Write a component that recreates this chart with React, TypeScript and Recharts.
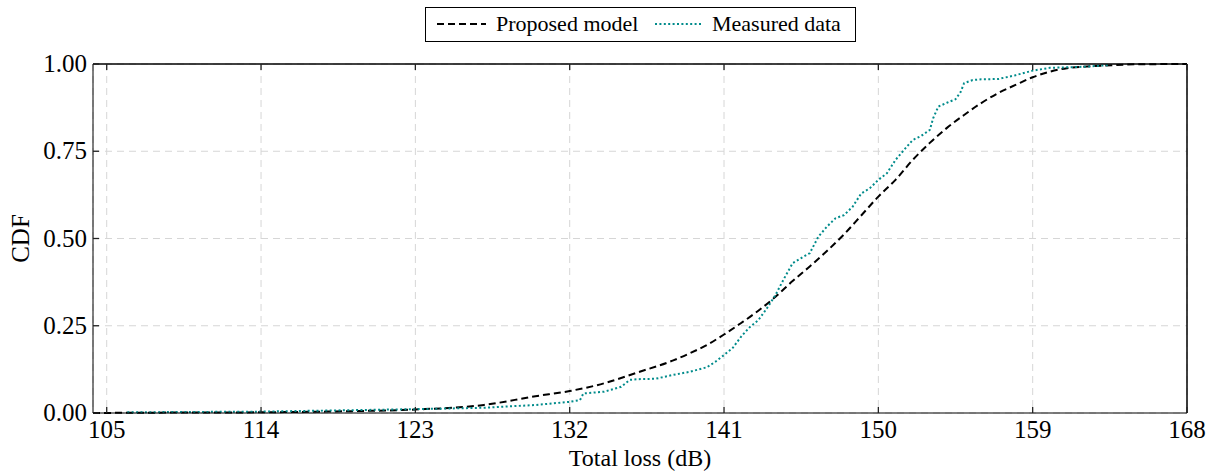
import { LineChart, Line, XAxis, YAxis, CartesianGrid, ReferenceLine } from 'recharts';

// proposed model CDF (total loss in dB -> CDF)
const modelLoss = [104.2, 108, 114, 119, 123, 127, 130, 132, 134, 136, 138, 139, 140, 141, 142, 143, 144, 145, 146, 147, 148, 149, 150, 151, 152, 153, 154, 155, 156, 157, 158, 159, 161, 163, 165, 168];
const modelCdf = [0, 0.001, 0.002, 0.005, 0.01, 0.023, 0.048, 0.063, 0.085, 0.117, 0.15, 0.171, 0.195, 0.225, 0.258, 0.293, 0.333, 0.378, 0.42, 0.464, 0.512, 0.566, 0.62, 0.668, 0.725, 0.774, 0.817, 0.854, 0.888, 0.917, 0.94, 0.962, 0.988, 0.995, 0.999, 1];

// measured data CDF
const measLoss = [106.2, 114, 123, 127, 130, 132, 132.6, 132.8, 134, 135, 135.5, 136, 137, 138, 139, 140, 140.5, 141, 141.5, 142, 142.5, 143, 143.5, 144, 144.5, 145, 145.5, 146, 146.5, 147, 147.5, 148, 148.5, 149, 149.5, 150, 150.5, 151, 151.5, 152, 152.5, 153, 153.2, 153.5, 154, 154.5, 154.8, 155, 155.5, 156, 157, 158, 159, 160, 162, 163.5];
const measCdf = [0.002, 0.004, 0.011, 0.015, 0.023, 0.032, 0.037, 0.056, 0.061, 0.075, 0.095, 0.097, 0.098, 0.109, 0.118, 0.131, 0.147, 0.166, 0.186, 0.219, 0.246, 0.266, 0.3, 0.338, 0.385, 0.429, 0.444, 0.458, 0.505, 0.534, 0.558, 0.567, 0.591, 0.629, 0.644, 0.668, 0.687, 0.725, 0.754, 0.782, 0.794, 0.811, 0.845, 0.878, 0.889, 0.899, 0.92, 0.945, 0.954, 0.956, 0.957, 0.968, 0.981, 0.989, 0.992, 0.997];

const xTicks = [105, 114, 123, 132, 141, 150, 159, 168];
const yTicks = [0, 0.25, 0.5, 0.75, 1];

const modelData = modelLoss.map((x, i) => ({ x, y: modelCdf[i] }));
const measData = measLoss.map((x, i) => ({ x, y: measCdf[i] }));

const FONT = 'Liberation Serif, DejaVu Serif, serif';
const TEAL = '#008b8b';
const TICK = '#222';

// inward tick marks drawn by hand, labels outside
const BottomTick = (p: any) => (
  <g>
    <line x1={p.x} x2={p.x} y1={p.y} y2={p.y - 6} stroke={TICK} strokeWidth={1.3} />
    <text x={p.x} y={p.y + 25} textAnchor="middle" fontFamily={FONT} fontSize={25} fill="#000">
      {p.payload.value}
    </text>
  </g>
);
const TopTick = (p: any) => (
  <line x1={p.x} x2={p.x} y1={p.y} y2={p.y + 6} stroke={TICK} strokeWidth={1.3} />
);
const LeftTick = (p: any) => (
  <g>
    <line x1={p.x} x2={p.x + 6} y1={p.y} y2={p.y} stroke={TICK} strokeWidth={1.3} />
    <text x={p.x - 6} y={p.y + 8} textAnchor="end" fontFamily={FONT} fontSize={25} fill="#000">
      {Number(p.payload.value).toFixed(2)}
    </text>
  </g>
);
const RightTick = (p: any) => (
  <line x1={p.x} x2={p.x - 6} y1={p.y} y2={p.y} stroke={TICK} strokeWidth={1.3} />
);

const LegendBox = () => (
  <svg width={1219} height={50} style={{ position: 'absolute', left: 0, top: 0 }}>
    <rect x={425.5} y={7.5} width={430} height={34} fill="#fff" stroke="#000" strokeWidth={1} />
    <line x1={437} y1={24} x2={486} y2={24} stroke="#000" strokeWidth={2} strokeDasharray="7 4" />
    <text x={496} y={31} fontFamily={FONT} fontSize={22}>Proposed model</text>
    <line x1={655} y1={24} x2={701} y2={24} stroke={TEAL} strokeWidth={2} strokeDasharray="2 2.4" />
    <text x={712} y={31} fontFamily={FONT} fontSize={22}>Measured data</text>
  </svg>
);

export default function App() {
  return (
    <div style={{ position: 'absolute', left: 0, top: 0, width: 1219, height: 476, background: '#fff', fontFamily: FONT }}>
      <LineChart width={1219} height={476} margin={{ top: 63, right: 31, bottom: 7, left: 13 }}>
        <CartesianGrid xAxisId="b" yAxisId="l" stroke="#d6d6d6" strokeDasharray="7 5" strokeWidth={1} />
        <XAxis
          xAxisId="b"
          type="number"
          dataKey="x"
          domain={[104.2, 168]}
          ticks={xTicks}
          allowDataOverflow
          height={56}
          stroke="#000"
          tickLine={false}
          tickSize={0}
          tickMargin={0}
          tick={BottomTick}
          label={{ value: 'Total loss (dB)', position: 'insideBottom', offset: 3, style: { fontFamily: FONT, fontSize: 24, fill: '#000' } }}
        />
        <XAxis
          xAxisId="t"
          orientation="top"
          type="number"
          dataKey="x"
          domain={[104.2, 168]}
          ticks={xTicks}
          allowDataOverflow
          height={1}
          stroke="#000"
          tickLine={false}
          tickSize={0}
          tickMargin={0}
          tick={TopTick}
        />
        <YAxis
          yAxisId="l"
          type="number"
          domain={[0, 1]}
          ticks={yTicks}
          width={80}
          stroke="#000"
          tickLine={false}
          tickSize={0}
          tickMargin={0}
          tick={LeftTick}
          label={{ value: 'CDF', angle: -90, position: 'insideLeft', offset: 7, style: { fontFamily: FONT, fontSize: 25, fill: '#000', textAnchor: 'middle' } }}
        />
        <YAxis
          yAxisId="r"
          orientation="right"
          type="number"
          domain={[0, 1]}
          ticks={yTicks}
          width={1}
          stroke="#000"
          tickLine={false}
          tickSize={0}
          tickMargin={0}
          tick={RightTick}
        />
        <ReferenceLine xAxisId="b" yAxisId="l" y={1} stroke="#000" strokeWidth={1} />
        <ReferenceLine xAxisId="b" yAxisId="l" x={168} stroke="#000" strokeWidth={1} />
        <Line
          xAxisId="b"
          yAxisId="l"
          data={modelData}
          dataKey="y"
          type="monotone"
          stroke="#000"
          strokeWidth={2}
          strokeDasharray="7 4"
          dot={false}
          isAnimationActive={false}
        />
        <Line
          xAxisId="b"
          yAxisId="l"
          data={measData}
          dataKey="y"
          type="linear"
          stroke={TEAL}
          strokeWidth={2}
          strokeDasharray="2 2.4"
          dot={false}
          isAnimationActive={false}
        />
      </LineChart>
      <LegendBox />
    </div>
  );
}
